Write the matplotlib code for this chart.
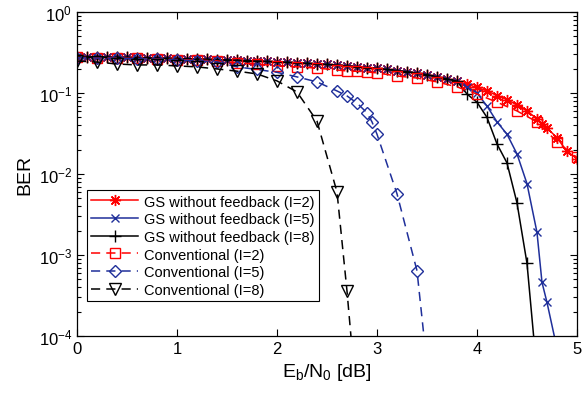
import numpy as np
import matplotlib
matplotlib.use('Agg')
import matplotlib.pyplot as plt
from matplotlib.ticker import LogLocator, NullFormatter

plt.rcParams['font.family'] = ['Liberation Sans', 'DejaVu Sans']
plt.rcParams['mathtext.fontset'] = 'custom'
plt.rcParams['mathtext.rm'] = 'Liberation Sans'
plt.rcParams['mathtext.it'] = 'Liberation Sans:italic'

# GS without feedback, common part (0 .. 3.8 dB, 0.1 dB step)
gs_x_common = [0.0, 0.1, 0.2, 0.3, 0.4, 0.5, 0.6, 0.7, 0.8, 0.9,
               1.0, 1.1, 1.2, 1.3, 1.4, 1.5, 1.6, 1.7, 1.8, 1.9,
               2.0, 2.1, 2.2, 2.3, 2.4, 2.5, 2.6, 2.7, 2.8, 2.9,
               3.0, 3.1, 3.2, 3.3, 3.4, 3.5, 3.6, 3.7, 3.8]
gs_ber_common = [0.280, 0.279, 0.278, 0.277, 0.276, 0.275, 0.273, 0.272, 0.270, 0.268,
                 0.266, 0.264, 0.262, 0.260, 0.258, 0.256, 0.253, 0.251, 0.248, 0.245,
                 0.242, 0.239, 0.236, 0.232, 0.229, 0.225, 0.221, 0.216, 0.211, 0.206,
                 0.201, 0.195, 0.189, 0.183, 0.176, 0.168, 0.158, 0.149, 0.140]

gs2_x_tail = [3.9, 4.0, 4.1, 4.2, 4.3, 4.4, 4.5, 4.6, 4.65, 4.7, 4.8, 4.9, 5.0]
gs2_ber_tail = [0.128, 0.117, 0.106, 0.093, 0.083, 0.071, 0.060, 0.048, 0.041, 0.037, 0.028, 0.019, 0.0155]

gs5_x_tail = [3.9, 4.0, 4.1, 4.2, 4.3, 4.4, 4.5, 4.6, 4.65, 4.7, 4.79]
gs5_ber_tail = [0.118, 0.100, 0.069, 0.044, 0.031, 0.0177, 0.0076, 0.0019, 4.6e-4, 2.6e-4, 8e-5]

gs8_x_tail = [3.9, 4.0, 4.1, 4.2, 4.3, 4.4, 4.5, 4.6]
gs8_ber_tail = [0.097, 0.077, 0.050, 0.0235, 0.0137, 0.0044, 7.9e-4, 3.5e-5]

conv2_x = [0.0, 0.2, 0.4, 0.6, 0.8, 1.0, 1.2, 1.4, 1.6, 1.8, 2.0, 2.2, 2.4, 2.6, 2.7, 2.8, 2.9, 3.0,
           3.2, 3.4, 3.6, 3.8, 4.0, 4.2, 4.4, 4.6, 4.8, 5.0]
conv2_ber = [0.275, 0.272, 0.270, 0.267, 0.263, 0.259, 0.254, 0.249, 0.235, 0.228, 0.216, 0.210, 0.203,
             0.192, 0.187, 0.185, 0.182, 0.177, 0.162, 0.153, 0.137, 0.119, 0.097, 0.077, 0.060,
             0.044, 0.025, 0.016]

conv5_x = [0.0, 0.2, 0.4, 0.6, 0.8, 1.0, 1.2, 1.4, 1.6, 1.8, 2.0, 2.2, 2.4, 2.6, 2.7, 2.8, 2.9, 2.95,
           3.0, 3.2, 3.4, 3.6]
conv5_ber = [0.272, 0.270, 0.268, 0.265, 0.261, 0.256, 0.250, 0.242, 0.210, 0.195, 0.180, 0.158, 0.137,
             0.106, 0.092, 0.075, 0.057, 0.044, 0.031, 0.0057, 6.4e-4, 3e-6]

conv8_x = [0.0, 0.2, 0.4, 0.6, 0.8, 1.0, 1.2, 1.4, 1.6, 1.8, 2.0, 2.2, 2.4, 2.6, 2.7, 2.8]
conv8_ber = [0.248, 0.241, 0.228, 0.222, 0.222, 0.216, 0.210, 0.198, 0.186, 0.172, 0.141, 0.103,
             0.045, 0.006, 3.6e-4, 1.4e-5]

red = '#ff0000'
blue = '#1f2f9a'
black = '#000000'

fig = plt.figure(figsize=(5.85, 4.02), dpi=100)
ax = fig.add_axes([0.1316, 0.1617, 0.8547, 0.806])

lw = 1.1
# MATLAB style asterisk
ax.semilogy(gs_x_common + gs2_x_tail, gs_ber_common + gs2_ber_tail, '-', color=red, lw=lw,
            marker=(8, 2, 0), ms=8, mew=1.0, label='GS without feedback (I=2)')
ax.semilogy(gs_x_common + gs5_x_tail, gs_ber_common + gs5_ber_tail, '-', color=blue, lw=lw,
            marker='x', ms=6, mew=1.0, label='GS without feedback (I=5)')
ax.semilogy(gs_x_common + gs8_x_tail, gs_ber_common + gs8_ber_tail, '-', color=black, lw=lw,
            marker='+', ms=9, mew=1.0, label='GS without feedback (I=8)')
ax.semilogy(conv2_x, conv2_ber, '--', color=red, lw=lw, dashes=(6, 4),
            marker='s', ms=7, mfc='none', mew=1.0, label='Conventional (I=2)')
ax.semilogy(conv5_x, conv5_ber, '--', color=blue, lw=lw, dashes=(6, 4),
            marker='D', ms=6, mfc='none', mew=1.0, label='Conventional (I=5)')
ax.semilogy(conv8_x, conv8_ber, '--', color=black, lw=lw, dashes=(6, 4),
            marker='v', ms=8, mfc='none', mew=1.0, label='Conventional (I=8)')

ax.set_xlim(0, 5)
ax.set_ylim(1e-4, 1)
ax.set_xticks([0, 1, 2, 3, 4, 5])
ax.yaxis.set_major_locator(LogLocator(base=10, numticks=10))
ax.yaxis.set_minor_locator(LogLocator(base=10, subs=np.arange(2, 10), numticks=20))
ax.yaxis.set_minor_formatter(NullFormatter())
ax.tick_params(which='both', direction='in', top=True, right=True, labelsize=12, width=0.8)
ax.tick_params(which='major', length=5)
ax.tick_params(which='minor', length=3)
for s in ax.spines.values():
    s.set_linewidth(0.9)

ax.set_xlabel(r'E$_\mathrm{b}$/N$_\mathrm{0}$ [dB]', fontsize=14)
ax.set_ylabel('BER', fontsize=14)

leg = ax.legend(loc='upper left', bbox_to_anchor=(0.02, 0.45), borderaxespad=0, fontsize=10.5,
                handlelength=3.2, numpoints=1, labelspacing=0.25, handletextpad=0.4,
                fancybox=False, framealpha=1, edgecolor='black', borderpad=0.3)
leg.get_frame().set_linewidth(0.8)

fig.savefig('out.png', dpi=100)
